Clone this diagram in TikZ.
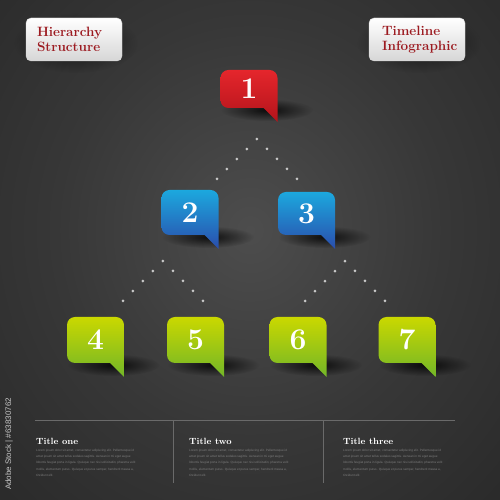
\documentclass[tikz,border=0pt]{standalone}
\usepackage{fontspec}
\newfontfamily\bodysans{Liberation Sans}
\usetikzlibrary{fadings}
\definecolor{bgA}{HTML}{4D4D4D}
\definecolor{bgB}{HTML}{373737}
\definecolor{bgC}{HTML}{1C1C1C}
\definecolor{redT}{HTML}{E5262C}
\definecolor{redB}{HTML}{B3141B}
\definecolor{bluT}{HTML}{1CA8DE}
\definecolor{bluB}{HTML}{2A4DAC}
\definecolor{grnT}{HTML}{CAD800}
\definecolor{grnB}{HTML}{72B628}
\definecolor{labred}{HTML}{9C1A20}
\definecolor{dotgray}{HTML}{C8C8C8}
\definecolor{rulegray}{HTML}{6A6A6A}
\definecolor{bodygray}{HTML}{7E7E7E}
\pgfdeclareradialshading{bgshade}{\pgfpoint{0bp}{0bp}}{color(0bp)=(bgA); color(18bp)=(bgB); color(50bp)=(bgC); color(80bp)=(bgC)}
\tikzfading[name=fuzzy, inner color=transparent!0, outer color=transparent!100]
\newcommand\bubble[7]{%
  \fill[black, path fading=fuzzy, opacity=0.8] ({#2+18},{#3-#4/2-2}) ellipse [x radius=46pt, y radius=11pt];
  \shade[top color=#5, bottom color=#6]
    ({#2-28.5},{#3+#4/2-8}) arc[start angle=180,end angle=90,radius=8pt]
    -- ({#2+20.5},{#3+#4/2}) arc[start angle=90,end angle=0,radius=8pt]
    -- ({#2+28.5},{#3-#4/2-14}) -- ({#2+14.5},{#3-#4/2})
    -- ({#2-20.5},{#3-#4/2}) arc[start angle=270,end angle=180,radius=8pt] -- cycle;
  \node[num] (#1) at (#2,#3) {#7};
}
\tikzset{
  num/.style={text=white, inner sep=0pt, font=\fontsize{30}{30}\selectfont\bfseries},
  labbox/.style={rounded corners=5pt, top color=white, bottom color=black!16, draw=white!85!black, line width=0.4pt,
    minimum width=96pt, minimum height=43pt, text width=74pt, align=left, inner sep=0pt,
    text=labred, font=\fontsize{13.5}{15.5}\selectfont\bfseries},
  dotline/.style={draw=dotgray, line width=3pt, line cap=round, dash pattern=on 0pt off 14.13pt},
  rule/.style={draw=rulegray, line width=0.8pt},
  ttl/.style={text=white, inner sep=0pt, anchor=base west, font=\fontsize{9}{10}\selectfont\bfseries},
  bodytxt/.style={text=bodygray, inner sep=0pt, anchor=north west, align=left, font=\bodysans\fontsize{3.1}{6.2}\selectfont}
}
\begin{document}
\begin{tikzpicture}[x=1pt,y=1pt]
\useasboundingbox (0,0) rectangle (500,500);
\begin{scope}
\clip (0,0) rectangle (500,500);
\shade[shading=bgshade] (-20,-20) rectangle (520,560);
\end{scope}

% header labels
\fill[black, path fading=fuzzy, opacity=0.6] (76,457) ellipse [x radius=62pt, y radius=30pt];
\fill[black, path fading=fuzzy, opacity=0.6] (419,457) ellipse [x radius=62pt, y radius=30pt];
\node[labbox] (lab1) at (74,460.5) {Hierarchy\\Structure};
\node[labbox, text width=70pt] (lab2) at (417,460.5) {Timeline\\Infographic};

% dotted connectors
\coordinate (l1) at (217,321); \coordinate (a1) at (257,361); \coordinate (r1) at (297,321);
\coordinate (l2) at (123,199); \coordinate (a2) at (163,239); \coordinate (r2) at (203,199);
\coordinate (l3) at (305,199); \coordinate (a3) at (345,239); \coordinate (r3) at (385,199);
\draw[dotline] (l1) -- (a1) -- (r1);
\draw[dotline] (l2) -- (a2) -- (r2);
\draw[dotline] (l3) -- (a3) -- (r3);

% bubbles
\bubble{b1}{249}{411}{38}{redT}{redB}{1}
\bubble{b2}{190}{287.5}{45}{bluT}{bluB}{2}
\bubble{b3}{306.5}{286.5}{43}{bluT}{bluB}{3}
\bubble{b4}{95.5}{160}{46}{grnT}{grnB}{4}
\bubble{b5}{195.5}{160}{46}{grnT}{grnB}{5}
\bubble{b6}{298}{160}{46}{grnT}{grnB}{6}
\bubble{b7}{407}{160}{46}{grnT}{grnB}{7}

% bottom section
\coordinate (h1) at (35,80); \coordinate (h2) at (455,80);
\coordinate (v1t) at (173,80); \coordinate (v1b) at (173,17);
\coordinate (v2t) at (323,80); \coordinate (v2b) at (323,17);
\draw[rule] (h1) -- (h2);
\draw[rule] (v1t) -- (v1b);
\draw[rule] (v2t) -- (v2b);

\node[ttl] (t1) at (36,55) {Title one};
\node[ttl] (t2) at (189,55) {Title two};
\node[ttl] (t3) at (343,55) {Title three};
\foreach \x/\n in {36/p1,189/p2,343/p3}{
  \node[bodytxt] (\n) at (\x,51) {Lorem ipsum dolor sit amet, consectetur adipiscing elit. Pellentesque id\\
amet ipsum sit amet tellus sodales sagittis. Aenean in mi eget augue\\
lobortis feugiat porta in ligula. Quisque nec nisi sollicitudin, pharetra velit\\
mollis, elementum purus. Quisque et purus semper, hendrerit massa a,\\
tincidunt elit.};
}

% side credit
\node[rotate=90, text=white!78!black, inner sep=0pt, font=\bodysans\fontsize{8}{9}\selectfont] (wm) at (9,56) {Adobe Stock | \#63830762};
\end{tikzpicture}
\end{document}
